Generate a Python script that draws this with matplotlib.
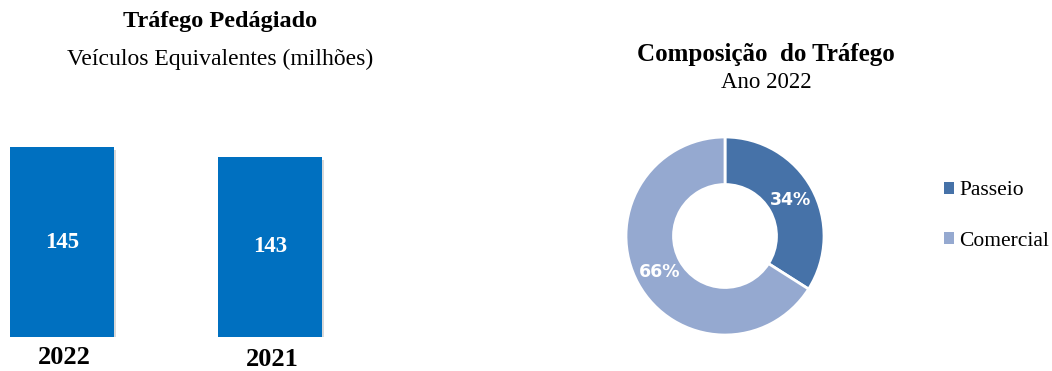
import matplotlib
matplotlib.use("Agg")
import matplotlib.pyplot as plt
from matplotlib.patches import Patch

plt.rcParams['font.family'] = ['Liberation Serif', 'DejaVu Serif']

# traffic data
anos = ["2022", "2021"]
trafego = [145, 143]

categorias = ["Passeio", "Comercial"]
participacao = [34, 66]

cor_barra = "#0070C0"
cores_pizza = ["#4672A8", "#95A9D0"]

W, H = 1052, 371
fig = plt.figure(figsize=(W / 100, H / 100), dpi=100)


def px_axes(left, top, width, height):
    return fig.add_axes([left / W, 1 - (top + height) / H, width / W, height / H])


# bar chart
base = 107
ax = px_axes(0, 137, 340, 200)
pos = list(range(len(anos)))
# soft shadow behind each bar
ax.bar([p + 0.012 for p in pos], [v - base for v in trafego], width=0.5, bottom=base - 0.7,
       color="#d9d9d9", zorder=1)
ax.bar(pos, [v - base for v in trafego], width=0.5, bottom=base, color=cor_barra, zorder=2)
for p, v in zip(pos, trafego):
    ax.text(p, (v + base) / 2, str(v), ha="center", va="center", color="white",
            fontsize=16.5, fontweight="bold", zorder=3)
ax.set_xlim(-62 / 208, (340 - 62) / 208)
ax.set_ylim(base, 147)
ax.axis("off")

year_y = [357, 360]
for p, ano, yy in zip(pos, anos, year_y):
    fig.text((64 + 208 * p) / W, 1 - yy / H, ano, ha="center", va="center",
             fontsize=19, fontweight="bold")

fig.text(220 / W, 1 - 22 / H, "Tráfego Pedágiado", ha="center", va="center",
         fontsize=17.5, fontweight="bold")
fig.text(220 / W, 1 - 59 / H, "Veículos Equivalentes (milhões)", ha="center", va="center",
         fontsize=17)

# donut chart
ax2 = px_axes(625, 136, 200, 200)
wedges, texts, autotexts = ax2.pie(
    participacao, colors=cores_pizza, startangle=90, counterclock=False,
    radius=1, autopct="%d%%", pctdistance=0.75,
    wedgeprops=dict(width=0.48, edgecolor="white", linewidth=2),
)
for t in autotexts:
    t.set_color("white")
    t.set_fontfamily("DejaVu Sans")
    t.set_fontweight("bold")
    t.set_fontsize(12.5)
ax2.set_xlim(-1.01, 1.01)
ax2.set_ylim(-1.01, 1.01)

fig.text(766 / W, 1 - 55 / H, "Composição  do Tráfego", ha="center", va="center",
         fontsize=18, fontweight="bold")
fig.text(766 / W, 1 - 82 / H, "Ano 2022", ha="center", va="center", fontsize=16.5)

handles = [Patch(facecolor=c, edgecolor="none") for c in cores_pizza]
fig.legend(handles, categorias, loc="center left", bbox_to_anchor=(925 / W, 1 - 216 / H),
           frameon=False, fontsize=15.5, handlelength=0.45, handleheight=0.45,
           handletextpad=0.25, labelspacing=1.45)

fig.savefig("out.png", dpi=100)
